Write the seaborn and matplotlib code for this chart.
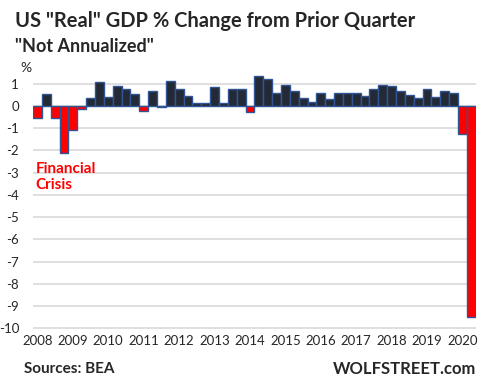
import numpy as np
import pandas as pd
import seaborn as sb
import matplotlib.pyplot as plt

# quarterly % change, not annualized, 2008 Q1 .. 2020 Q2
years = [str(y) for y in range(2008, 2021)]
quarters = [f"{y} Q{q}" for y in range(2008, 2021) for q in range(1, 5)][:50]
gdp_change = [
    -0.55, 0.53, -0.54, -2.13,
    -1.10, -0.15, 0.34, 1.09,
    0.38, 0.91, 0.74, 0.53,
    -0.25, 0.69, -0.05, 1.13,
    0.78, 0.43, 0.12, 0.12,
    0.87, 0.12, 0.78, 0.78,
    -0.28, 1.35, 1.22, 0.56,
    0.96, 0.65, 0.34, 0.16,
    0.56, 0.29, 0.56, 0.60,
    0.56, 0.43, 0.74, 0.96,
    0.91, 0.65, 0.51, 0.34,
    0.74, 0.38, 0.65, 0.56,
    -1.25, -9.50,
]

df = pd.DataFrame({"quarter": quarters, "change": gdp_change})
df["sign"] = np.where(df["change"] < 0, "neg", "pos")

sb.set_style("white")
plt.rcParams["font.family"] = ["Lato", "DejaVu Sans"]

fig = plt.figure(figsize=(4.92, 3.87), dpi=100)
ax = fig.add_axes([0.067, 0.1486, 0.9, 0.664])

# saturation=1 so the red stays pure red
sb.barplot(data=df, x="quarter", y="change", hue="sign",
           palette={"pos": "#232a35", "neg": "#ff0000"}, saturation=1,
           edgecolor="#2f5597", linewidth=1.0, width=1.0,
           dodge=False, legend=False, ax=ax)

ax.set_ylim(-10.05, 1.5)
ax.set_xlim(-0.5, len(df) - 0.5)
ax.set_yticks(range(-10, 2))
ax.set_yticklabels([str(v) for v in range(-10, 2)], fontsize=9.5)
ax.yaxis.grid(True, color="#d9d9d9", linewidth=1.2)
ax.set_axisbelow(True)
ax.set_xticks(range(0, len(df), 4))
ax.set_xticklabels(years, fontsize=9.5)
ax.tick_params(axis="x", length=0, pad=4)
ax.tick_params(axis="y", length=0, pad=10)
ax.set_xlabel("")
ax.set_ylabel("")
for s in ax.spines.values():
    s.set_visible(False)

fig.text(0.03, 0.945, 'US "Real" GDP % Change from Prior Quarter',
         fontsize=14.5, fontweight="bold", va="center")
fig.text(0.03, 0.88, '"Not Annualized"', fontsize=13, fontweight="bold", va="center")
fig.text(0.042, 0.825, "%", fontsize=10, va="center")
ax.text(-0.2, -2.5, "Financial\nCrisis", color="#ff0000", fontsize=11,
        fontweight="bold", va="top", linespacing=1.2)
fig.text(0.049, 0.047, "Sources: BEA", fontsize=11, fontweight="bold", va="center")
fig.text(0.967, 0.047, "WOLFSTREET.com", fontsize=12, fontweight="bold",
         va="center", ha="right")

plt.savefig("out.png", dpi=100)
plt.close()
